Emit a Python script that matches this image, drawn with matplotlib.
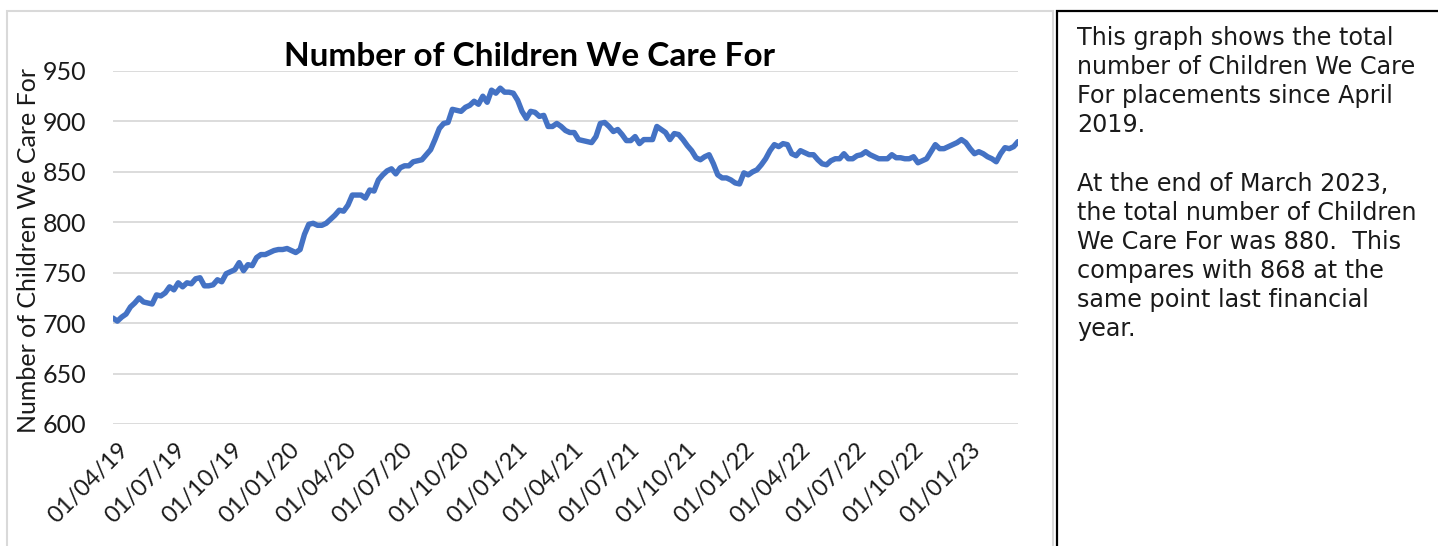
import numpy as np
import pandas as pd
import matplotlib
matplotlib.use("Agg")
import matplotlib.pyplot as plt
import matplotlib.dates as mdates
import matplotlib.transforms as mtransforms
from matplotlib.patches import Rectangle

# weekly count of children we care for, from the first week of April 2019
start_date = "2019-04-01"
children = [
    705, 702, 706, 709, 716, 720, 725, 721, 720, 719,
    728, 727, 730, 736, 733, 740, 736, 740, 739, 744,
    745, 737, 737, 738, 743, 741, 749, 751, 753, 760,
    752, 758, 757, 765, 768, 768, 770, 772, 773, 773,
    774, 772, 770, 773, 788, 798, 799, 797, 797, 799,
    803, 807, 812, 811, 817, 827, 827, 827, 824, 832,
    831, 842, 847, 851, 853, 848, 854, 856, 856, 860,
    861, 862, 867, 872, 882, 893, 898, 899, 912, 911,
    910, 914, 916, 920, 917, 925, 919, 931, 928, 933,
    929, 929, 928, 921, 910, 903, 910, 909, 905, 906,
    895, 895, 898, 895, 891, 889, 889, 882, 881, 880,
    879, 885, 898, 899, 895, 890, 892, 887, 881, 881,
    885, 878, 882, 882, 882, 895, 892, 889, 882, 888,
    887, 882, 876, 871, 864, 862, 865, 867, 858, 847,
    844, 844, 842, 839, 838, 849, 847, 850, 852, 857,
    863, 871, 877, 875, 878, 877, 868, 866, 871, 869,
    867, 867, 862, 858, 857, 861, 863, 863, 868, 863,
    863, 866, 867, 870, 867, 865, 863, 863, 863, 867,
    864, 864, 863, 863, 865, 859, 861, 863, 870, 877,
    873, 873, 875, 877, 879, 882, 879, 873, 868, 870,
    868, 865, 863, 860, 868, 874, 873, 875, 880,
]
dates = pd.date_range(start_date, periods=len(children), freq="7D")

tick_dates = pd.date_range("2019-04-01", "2023-01-01", freq="3MS")
y_ticks = [600, 650, 700, 750, 800, 850, 900, 950]

title = "Number of Children We Care For"
y_title = "Number of Children We Care For"
note = ("This graph shows the total\n"
        "number of Children We Care\n"
        "For placements since April\n"
        "2019.\n"
        "\n"
        "At the end of March 2023,\n"
        "the total number of Children\n"
        "We Care For was 880.  This\n"
        "compares with 868 at the\n"
        "same point last financial\n"
        "year.")

W, H = 1438, 546
fig = plt.figure(figsize=(W / 100, H / 100), dpi=100)
fig.patch.set_facecolor("white")

# chart frame and the note box
fig.patches.append(Rectangle((7 / W, -0.02), (1053 - 7) / W, 1 - 11 / H + 0.02,
                             transform=fig.transFigure, fill=False,
                             edgecolor="#d9d9d9", lw=1.5))
fig.patches.append(Rectangle((1057 / W, -0.02), 0.3, 1 - 11 / H + 0.02,
                             transform=fig.transFigure, fill=False,
                             edgecolor="black", lw=1.6))

ax = fig.add_axes([113 / W, 1 - 424 / H, (1018 - 113) / W, (424 - 71) / H])
ax.plot(dates, children, color="#4472C4", lw=3.9, solid_joinstyle="round",
        solid_capstyle="round")

ax.set_xlim(dates[0], dates[-1])
ax.set_ylim(600, 950)
ax.set_yticks(y_ticks)
ax.yaxis.grid(True, color="#d9d9d9", lw=1.3)
ax.set_axisbelow(True)
for s in ax.spines.values():
    s.set_visible(False)

ax.set_xticks(tick_dates)
ax.xaxis.set_major_formatter(mdates.DateFormatter("%d/%m/%y"))
ax.tick_params(axis="both", length=0)
ax.tick_params(axis="y", pad=19, labelsize=18, labelcolor="#1a1a1a")
ax.tick_params(axis="x", pad=11, labelsize=17, labelcolor="#1a1a1a")
for lab in ax.yaxis.get_ticklabels():
    lab.set_fontfamily("Lato")
shift = mtransforms.ScaledTranslation(5 / 100, 0, fig.dpi_scale_trans)
for lab in ax.xaxis.get_ticklabels():
    lab.set_fontfamily("Lato")
    lab.set_rotation(45)
    lab.set_ha("right")
    lab.set_va("top")
    lab.set_rotation_mode("anchor")
    lab.set_transform(lab.get_transform() + shift)

fig.text(530 / W, 1 - 57 / H, title, ha="center", va="center",
         fontsize=24, fontweight="bold", family="Lato", color="black")
fig.text(29 / W, 1 - 251 / H, y_title, rotation=90, ha="center", va="center",
         fontsize=18, family="Lato", color="#1a1a1a")

fig.text(1077 / W, 1 - 26 / H, note, ha="left", va="top", fontsize=17.2,
         family="DejaVu Sans", color="#1a1a1a", linespacing=1.27)

fig.savefig("out.png", dpi=100)
